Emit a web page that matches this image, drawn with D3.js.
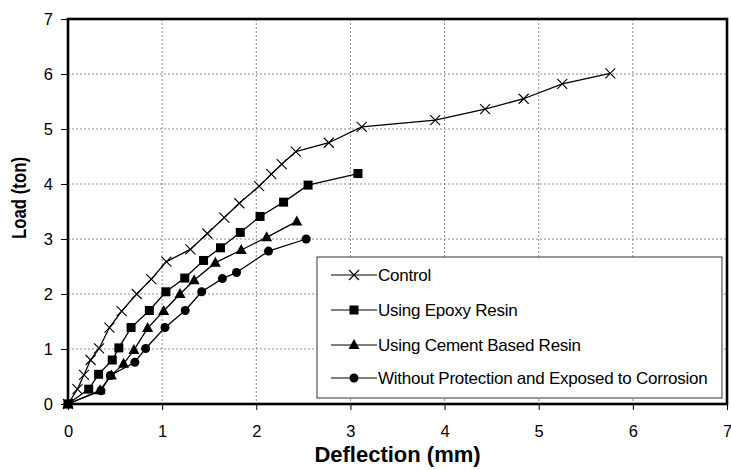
<!DOCTYPE html>
<html><head><meta charset="utf-8">
<script src="https://cdn.jsdelivr.net/npm/d3@7"></script>
<style>body{margin:0;background:#fff}svg{display:block}text{font-family:"Liberation Sans",Arial,sans-serif}</style>
</head><body><svg id="c" width="731" height="470"></svg>
<script>
const xTicks = [0,1,2,3,4,5,6,7];
const yTicks = [0,1,2,3,4,5,6,7];
const seriesNames = ["Control","Using Epoxy Resin","Using Cement Based Resin","Without Protection and Exposed to Corrosion"];
const seriesMarkers = ["cross","square","triangle","circle"];
const controlX = [0,0.10,0.17,0.24,0.33,0.44,0.57,0.73,0.885,1.045,1.30,1.48,1.66,1.82,2.03,2.16,2.27,2.42,2.77,3.12,3.90,4.43,4.84,5.25,5.76];
const controlY = [0,0.27,0.53,0.80,1.01,1.39,1.69,2.00,2.27,2.59,2.81,3.10,3.39,3.65,3.96,4.18,4.36,4.59,4.75,5.04,5.16,5.36,5.55,5.82,6.01];
const epoxyX = [0,0.22,0.325,0.47,0.54,0.67,0.864,1.04,1.24,1.44,1.62,1.83,2.04,2.29,2.55,3.08];
const epoxyY = [0,0.27,0.54,0.80,1.02,1.39,1.70,2.04,2.29,2.61,2.84,3.12,3.41,3.67,3.98,4.19];
const cementX = [0,0.34,0.46,0.59,0.70,0.846,1.016,1.19,1.34,1.565,1.84,2.11,2.43];
const cementY = [0,0.25,0.52,0.73,0.98,1.38,1.69,2.00,2.25,2.57,2.80,3.03,3.32];
const corrX = [0,0.35,0.45,0.71,0.825,1.03,1.245,1.42,1.64,1.79,2.13,2.53];
const corrY = [0,0.24,0.52,0.76,1.01,1.39,1.70,2.04,2.28,2.39,2.78,3.00];

const seriesData = [[controlX,controlY],[epoxyX,epoxyY],[cementX,cementY],[corrX,corrY]]
  .map(([xs,ys]) => xs.map((x,i)=>({x, y: ys[i]})));

const L = 68, R = 727, T = 19, B = 404;
const svg = d3.select("#c");
const x = d3.scaleLinear().domain([0,7]).range([L,R]);
const y = d3.scaleLinear().domain([0,7]).range([B,T]);

// gridlines
svg.append("g").selectAll("line").data(xTicks.slice(1,-1)).join("line")
  .attr("x1",d=>x(d)).attr("x2",d=>x(d)).attr("y1",T).attr("y2",B)
  .attr("stroke","#8a8a8a").attr("stroke-width",1).attr("stroke-dasharray","2,2");
svg.append("g").selectAll("line").data(yTicks.slice(1,-1)).join("line")
  .attr("y1",d=>y(d)).attr("y2",d=>y(d)).attr("x1",L).attr("x2",R)
  .attr("stroke","#8a8a8a").attr("stroke-width",1).attr("stroke-dasharray","2,2");

// axes
const xAxis = svg.append("g").attr("transform",`translate(0,${B})`)
  .call(d3.axisBottom(x).tickValues(xTicks).tickFormat(d3.format("d")).tickSize(6).tickPadding(15));
const yAxis = svg.append("g").attr("transform",`translate(${L},0)`)
  .call(d3.axisLeft(y).tickValues(yTicks).tickFormat(d3.format("d")).tickSize(7).tickPadding(8));
[xAxis,yAxis].forEach(a=>{
  a.select(".domain").remove();
  a.selectAll("line").attr("stroke","#000").attr("stroke-width",1);
  a.selectAll("text").attr("font-size",16.5).attr("fill","#000").style("font-family","Liberation Sans, Arial, sans-serif");
});

// frame
svg.append("rect").attr("x",L).attr("y",T).attr("width",R-L).attr("height",B-T)
  .attr("fill","none").attr("stroke","#000").attr("stroke-width",2.6);

// axis titles
svg.append("text").attr("x",(L+R)/2).attr("y",462).attr("text-anchor","middle")
  .attr("font-size",22).attr("font-weight","bold").text("Deflection (mm)");
svg.append("text").attr("transform","translate(26,198) rotate(-90)").attr("text-anchor","middle")
  .attr("font-size",20).attr("font-weight","bold")
  .attr("textLength",82).attr("lengthAdjust","spacingAndGlyphs").text("Load (ton)");

function drawMarker(g, type, cx, cy){
  if(type==="cross"){
    const s=5;
    g.append("path").attr("d",`M${cx-s},${cy-s}L${cx+s},${cy+s}M${cx-s},${cy+s}L${cx+s},${cy-s}`)
      .attr("stroke","#000").attr("stroke-width",1.1).attr("fill","none");
  } else if(type==="square"){
    g.append("rect").attr("x",cx-4.5).attr("y",cy-4.5).attr("width",9).attr("height",9).attr("fill","#000");
  } else if(type==="triangle"){
    g.append("path").attr("d",`M${cx},${cy-6}L${cx+5.5},${cy+4}L${cx-5.5},${cy+4}Z`).attr("fill","#000");
  } else {
    g.append("circle").attr("cx",cx).attr("cy",cy).attr("r",4.5).attr("fill","#000");
  }
}

const line = d3.line().x(d=>x(d.x)).y(d=>y(d.y));
const plot = svg.append("g");
seriesData.forEach((data,i)=>{
  plot.append("path").datum(data).attr("d",line).attr("fill","none").attr("stroke","#000").attr("stroke-width",1.3);
});
seriesData.forEach((data,i)=>{
  const g = plot.append("g");
  data.forEach(d=>drawMarker(g, seriesMarkers[i], x(d.x), y(d.y)));
});

// legend
const lg = svg.append("g");
lg.append("rect").attr("x",317).attr("y",257).attr("width",405).attr("height",141)
  .attr("fill","#fff").attr("stroke","#333").attr("stroke-width",1);
const rowY = [275,310,345,378];
seriesNames.forEach((name,i)=>{
  const yy = rowY[i];
  lg.append("line").attr("x1",331).attr("x2",377).attr("y1",yy).attr("y2",yy).attr("stroke","#000").attr("stroke-width",1.2);
  drawMarker(lg, seriesMarkers[i], 354, yy);
  lg.append("text").attr("x",378).attr("y",yy).attr("dy","0.35em").attr("font-size",17)
    .attr("letter-spacing","-0.25").text(name);
});
</script></body></html>
